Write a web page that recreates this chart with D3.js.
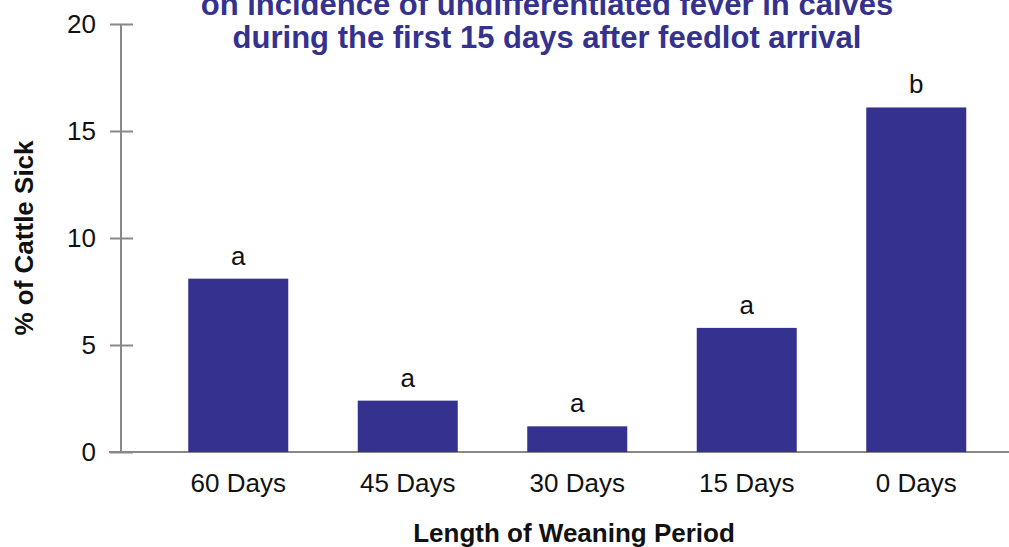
<!DOCTYPE html>
<html>
<head>
<meta charset="utf-8">
<script src="https://d3js.org/d3.v7.min.js"></script>
<style>
    body { margin: 0; background: #fff; }
    text { font-family: "Liberation Sans", Arial, sans-serif; }
    .axis path, .axis line { stroke: #888; stroke-width: 2; }
    .axis text { font-size: 26px; fill: #111; }
</style>
</head>
<body>
<svg id="chart"></svg>
<script>
    let categories = ['60 Days', '45 Days', '30 Days', '15 Days', '0 Days'];
    let sickPct = [8.1, 2.4, 1.2, 5.8, 16.1];
    let letters = ['a', 'a', 'a', 'a', 'b'];
    let yTicks = [0, 5, 10, 15, 20];
    let titleLines = ['on incidence of undifferentiated fever in calves',
                      'during the first 15 days after feedlot arrival'];

    let width = 1009, height = 547;
    let margin = {top: 24, bottom: 95, left: 121, right: 6};
    let barColor = '#35318e';

    let svg = d3.select('#chart')
        .attr('width', width)
        .attr('height', height);

    let xScale = d3.scaleBand()
        .domain(categories)
        .range([153.5, 1001])
        .paddingInner(0.41)
        .paddingOuter(0.205);

    let yScale = d3.scaleLinear()
        .domain([0, 20])
        .range([height - margin.bottom, margin.top]);

    // y axis, ticks cross the line
    let yAxis = svg.append('g')
        .attr('class', 'axis')
        .attr('transform', `translate(${margin.left},0)`)
        .call(d3.axisLeft(yScale).tickValues(yTicks).tickSize(11).tickSizeOuter(0).tickPadding(14));
    yAxis.selectAll('.tick line').attr('x2', 12).attr('x1', -11);
    yAxis.select('.domain').attr('d', `M0,${yScale(0)}V${yScale(20)}`);

    // x axis
    let xAxis = svg.append('g')
        .attr('class', 'axis')
        .attr('transform', `translate(0,${yScale(0)})`)
        .call(d3.axisBottom(xScale).tickSize(0).tickPadding(22));
    xAxis.select('.domain').attr('d', 'M109,0H1009');

    // bars
    svg.selectAll('.bar')
        .data(sickPct)
        .enter().append('rect')
        .attr('class', 'bar')
        .attr('x', (d, i) => xScale(categories[i]))
        .attr('width', xScale.bandwidth())
        .attr('y', d => yScale(d))
        .attr('height', d => yScale(0) - yScale(d))
        .attr('fill', barColor);

    // significance letters
    svg.selectAll('.letter')
        .data(sickPct)
        .enter().append('text')
        .attr('x', (d, i) => xScale(categories[i]) + xScale.bandwidth() / 2)
        .attr('y', d => yScale(d) - 14)
        .attr('text-anchor', 'middle')
        .style('font-size', '26px')
        .attr('fill', '#111')
        .text((d, i) => letters[i]);

    // title (top line is cut off by the frame, as in the source)
    svg.selectAll('.title')
        .data(titleLines)
        .enter().append('text')
        .attr('x', 547)
        .attr('y', (d, i) => 15 + i * 33)
        .attr('text-anchor', 'middle')
        .style('font-size', '31px')
        .style('font-weight', 'bold')
        .attr('fill', barColor)
        .text(d => d);

    // axis titles
    svg.append('text')
        .attr('transform', 'translate(33,238) rotate(-90)')
        .attr('text-anchor', 'middle')
        .style('font-size', '26px')
        .style('font-weight', 'bold')
        .attr('fill', '#111')
        .text('% of Cattle Sick');

    svg.append('text')
        .attr('x', 574)
        .attr('y', 542)
        .attr('text-anchor', 'middle')
        .style('font-size', '26px')
        .style('font-weight', 'bold')
        .attr('fill', '#111')
        .text('Length of Weaning Period');
</script>
</body>
</html>
